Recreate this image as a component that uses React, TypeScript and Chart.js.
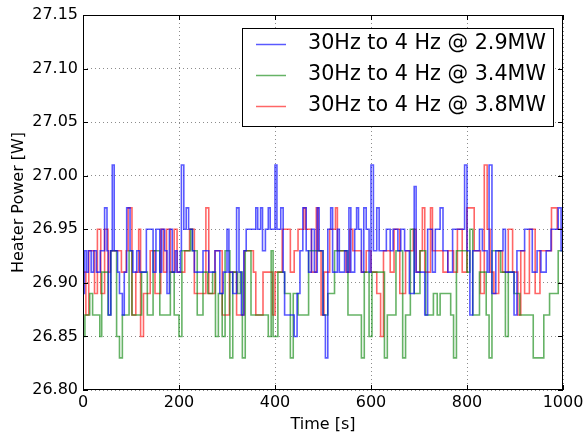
import React, { useEffect, useRef } from "react";
import { Chart, registerables } from "chart.js";

Chart.register(...registerables);

const xTickLabels = ["0", "200", "400", "600", "800", "1000"];
const yTickLabels = ["26.80", "26.85", "26.90", "26.95", "27.00", "27.05", "27.10", "27.15"];

const labels = ["30Hz to 4 Hz @ 2.9MW", "30Hz to 4 Hz @ 3.4MW", "30Hz to 4 Hz @ 3.8MW"];

// change-point times [s] and values [W] (value holds until next time)
const blueTimes = [0, 3, 7, 11, 17, 22, 28, 36, 45, 50, 53, 58, 61, 65, 72, 76, 82, 86, 91, 98, 104, 112, 118, 132, 146, 152, 160, 164, 170, 175, 180, 186, 192, 196, 203, 205, 210, 215, 220, 228, 232, 250, 262, 275, 285, 292, 300, 304, 312, 320, 325, 330, 335, 340, 360, 364, 370, 374, 380, 386, 390, 400, 404, 412, 417, 420, 440, 446, 452, 458, 465, 470, 476, 482, 488, 492, 500, 505, 510, 516, 520, 530, 534, 545, 550, 554, 558, 566, 570, 574, 580, 585, 590, 596, 600, 605, 612, 617, 632, 640, 646, 656, 662, 670, 680, 690, 694, 712, 718, 728, 734, 744, 750, 760, 770, 795, 800, 806, 812, 826, 832, 842, 846, 852, 860, 875, 880, 898, 904, 920, 936, 946, 954, 965, 975, 990, 996, 1000];
const blueValues = [26.89, 26.93, 26.91, 26.93, 26.91, 26.93, 26.91, 26.93, 26.97, 26.93, 26.87, 26.93, 27.01, 26.93, 26.91, 26.89, 26.87, 26.91, 26.97, 26.93, 26.91, 26.93, 26.91, 26.95, 26.91, 26.95, 26.91, 26.95, 26.93, 26.89, 26.95, 26.91, 26.93, 26.91, 26.93, 27.01, 26.95, 26.97, 26.95, 26.93, 26.91, 26.93, 26.91, 26.93, 26.89, 26.91, 26.95, 26.91, 26.89, 26.97, 26.91, 26.87, 26.93, 26.95, 26.97, 26.95, 26.97, 26.93, 26.95, 26.97, 26.95, 27.01, 26.95, 26.97, 26.91, 26.87, 26.85, 26.89, 26.93, 26.97, 26.93, 26.91, 26.95, 26.91, 26.97, 26.93, 26.87, 26.83, 26.95, 26.97, 26.91, 26.95, 26.91, 26.93, 26.91, 26.97, 26.91, 26.95, 26.97, 26.95, 26.91, 26.97, 26.95, 26.91, 27.01, 26.93, 26.97, 26.93, 26.95, 26.93, 26.95, 26.93, 26.95, 26.93, 26.89, 26.99, 26.91, 26.87, 26.95, 26.91, 26.95, 26.97, 26.93, 26.91, 26.95, 27.01, 26.93, 26.87, 26.93, 26.95, 26.93, 26.91, 27.01, 26.89, 26.93, 26.95, 26.91, 26.87, 26.93, 26.95, 26.91, 26.93, 26.91, 26.93, 26.95, 26.97, 26.93, 26.93];

const greenTimes = [0, 4, 14, 20, 35, 39, 52, 58, 70, 76, 82, 96, 102, 122, 134, 146, 160, 182, 190, 200, 206, 224, 228, 238, 250, 260, 270, 276, 282, 290, 296, 306, 312, 322, 328, 332, 338, 350, 386, 392, 396, 406, 420, 432, 438, 448, 470, 500, 510, 524, 552, 580, 586, 596, 602, 628, 634, 652, 666, 672, 682, 690, 702, 714, 730, 738, 744, 766, 772, 778, 800, 806, 812, 826, 840, 846, 852, 870, 880, 886, 898, 910, 938, 960, 972, 990, 1000];
const greenValues = [26.85, 26.87, 26.89, 26.87, 26.85, 26.91, 26.87, 26.93, 26.85, 26.83, 26.87, 26.93, 26.87, 26.91, 26.87, 26.93, 26.87, 26.91, 26.87, 26.85, 26.93, 26.95, 26.93, 26.87, 26.91, 26.89, 26.91, 26.85, 26.89, 26.85, 26.93, 26.83, 26.91, 26.89, 26.91, 26.83, 26.93, 26.87, 26.85, 26.93, 26.85, 26.91, 26.89, 26.83, 26.89, 26.87, 26.93, 26.87, 26.89, 26.93, 26.87, 26.83, 26.91, 26.85, 26.91, 26.83, 26.87, 26.93, 26.83, 26.87, 26.95, 26.89, 26.93, 26.87, 26.89, 26.87, 26.89, 26.87, 26.83, 26.93, 26.91, 26.95, 26.87, 26.91, 26.87, 26.83, 26.93, 26.91, 26.85, 26.91, 26.89, 26.87, 26.83, 26.87, 26.89, 26.93, 26.93];

const redTimes = [0, 6, 12, 24, 30, 37, 45, 52, 57, 80, 90, 94, 102, 110, 116, 120, 126, 140, 150, 162, 168, 174, 182, 190, 196, 212, 222, 232, 256, 262, 275, 290, 305, 320, 336, 355, 360, 375, 395, 400, 415, 432, 440, 448, 460, 464, 476, 486, 490, 496, 502, 514, 526, 530, 548, 556, 562, 580, 590, 600, 612, 620, 626, 640, 648, 660, 672, 688, 694, 702, 707, 712, 724, 728, 750, 760, 772, 780, 790, 800, 815, 828, 836, 842, 848, 856, 866, 874, 886, 895, 906, 912, 920, 930, 942, 952, 976, 988, 1000];
const redValues = [26.91, 26.87, 26.93, 26.89, 26.95, 26.89, 26.95, 26.91, 26.93, 26.91, 26.93, 26.97, 26.87, 26.91, 26.95, 26.85, 26.89, 26.93, 26.89, 26.95, 26.91, 26.95, 26.91, 26.95, 26.91, 26.93, 26.95, 26.89, 26.97, 26.89, 26.93, 26.87, 26.91, 26.87, 26.93, 26.91, 26.87, 26.91, 26.87, 26.91, 26.95, 26.91, 26.93, 26.95, 26.97, 26.95, 26.91, 26.97, 26.93, 26.87, 26.91, 26.95, 26.97, 26.93, 26.91, 26.95, 26.93, 26.91, 26.93, 26.91, 26.89, 26.85, 26.93, 26.91, 26.95, 26.89, 26.93, 26.95, 26.91, 26.93, 26.97, 26.91, 26.97, 26.93, 26.91, 26.93, 26.91, 26.95, 26.91, 26.97, 26.93, 26.89, 27.01, 26.95, 26.91, 26.89, 26.93, 26.91, 26.95, 26.91, 26.87, 26.93, 26.89, 26.95, 26.89, 26.93, 26.97, 26.95, 26.95];

const colors = ["rgba(0,0,255,0.65)", "rgba(0,128,0,0.6)", "rgba(255,0,0,0.6)"];
const FONT = "'DejaVu Sans', sans-serif";

const toPts = (ts: number[], vs: number[]) => ts.map((t, i) => ({ x: t, y: vs[i] }));

const framePlugin = {
  id: "frameAndLegend",
  afterDraw(chart: any) {
    const { ctx, chartArea } = chart;
    const { left, right, top, bottom } = chartArea;
    ctx.save();
    ctx.strokeStyle = "#000";
    ctx.lineWidth = 1;
    ctx.strokeRect(left + 0.5, top + 0.5, right - left - 1, bottom - top - 1);
    const xs = chart.scales.x;
    const ys = chart.scales.y;
    ctx.beginPath();
    xs.ticks.forEach((t: any) => {
      const px = Math.round(xs.getPixelForValue(t.value)) + 0.5;
      ctx.moveTo(px, bottom);
      ctx.lineTo(px, bottom - 5);
      ctx.moveTo(px, top);
      ctx.lineTo(px, top + 5);
    });
    ys.ticks.forEach((t: any) => {
      const py = Math.round(ys.getPixelForValue(t.value)) + 0.5;
      ctx.moveTo(left, py);
      ctx.lineTo(left + 5, py);
      ctx.moveTo(right, py);
      ctx.lineTo(right - 5, py);
    });
    ctx.stroke();
    // legend
    const bx = 242, by = 28, bw = 311, bh = 98;
    ctx.fillStyle = "#fff";
    ctx.fillRect(bx, by, bw, bh);
    ctx.strokeRect(bx + 0.5, by + 0.5, bw, bh);
    ctx.font = `20.7px ${FONT}`;
    ctx.textBaseline = "middle";
    ctx.textAlign = "left";
    chart.data.datasets.forEach((ds: any, i: number) => {
      const yy = 44 + i * 31;
      ctx.strokeStyle = ds.borderColor;
      ctx.lineWidth = 1.5;
      ctx.beginPath();
      ctx.moveTo(256, yy + 0.5);
      ctx.lineTo(286, yy + 0.5);
      ctx.stroke();
      ctx.fillStyle = "#000";
      ctx.fillText(ds.label, 308, yy);
    });
    ctx.restore();
  },
};

export default function App() {
  const ref = useRef<HTMLCanvasElement | null>(null);
  useEffect(() => {
    document.body.style.margin = "0";
    if (!ref.current) return;
    const chart = new Chart(ref.current, {
      type: "line",
      data: {
        datasets: [
          { label: labels[0], data: toPts(blueTimes, blueValues), borderColor: colors[0] },
          { label: labels[1], data: toPts(greenTimes, greenValues), borderColor: colors[1] },
          { label: labels[2], data: toPts(redTimes, redValues), borderColor: colors[2] },
        ].map((d) => ({ ...d, stepped: true, pointRadius: 0, borderWidth: 1.6, fill: false })),
      },
      options: {
        animation: false,
        responsive: false,
        layout: { padding: { top: 15, right: 24, left: 0, bottom: 0 } },
        plugins: { legend: { display: false }, tooltip: { enabled: false } },
        scales: {
          x: {
            type: "linear",
            min: 0,
            max: 1000,
            afterFit: (s: any) => { s.height = 45; },
            afterBuildTicks: (s: any) => { s.ticks = xTickLabels.map((l) => ({ value: Number(l) })); },
            ticks: { font: { family: FONT, size: 16 }, color: "#000", padding: 3, maxRotation: 0, callback: (v: any) => String(v) },
            grid: { color: "rgba(0,0,0,0.45)", drawTicks: false, tickLength: 0 },
            border: { display: false, dash: [1, 3] },
            title: { display: true, text: "Time [s]", font: { family: FONT, size: 16 }, color: "#000", padding: { top: 0, bottom: 1 } },
          },
          y: {
            type: "linear",
            min: 26.8,
            max: 27.15,
            afterFit: (s: any) => { s.width = 83; },
            afterBuildTicks: (s: any) => { s.ticks = yTickLabels.map((l) => ({ value: Number(l) })); },
            ticks: { font: { family: FONT, size: 16 }, color: "#000", padding: 5, callback: (v: any) => Number(v).toFixed(2) },
            grid: { color: "rgba(0,0,0,0.45)", drawTicks: false, tickLength: 0 },
            border: { display: false, dash: [1, 3] },
            title: { display: true, text: "Heater Power [W]", font: { family: FONT, size: 16 }, color: "#000", padding: { top: 9, bottom: 0 } },
          },
        },
      },
      plugins: [framePlugin],
    } as any);
    return () => chart.destroy();
  }, []);
  return (
    <div style={{ width: 587, height: 435 }}>
      <canvas ref={ref} width={587} height={435} />
    </div>
  );
}
